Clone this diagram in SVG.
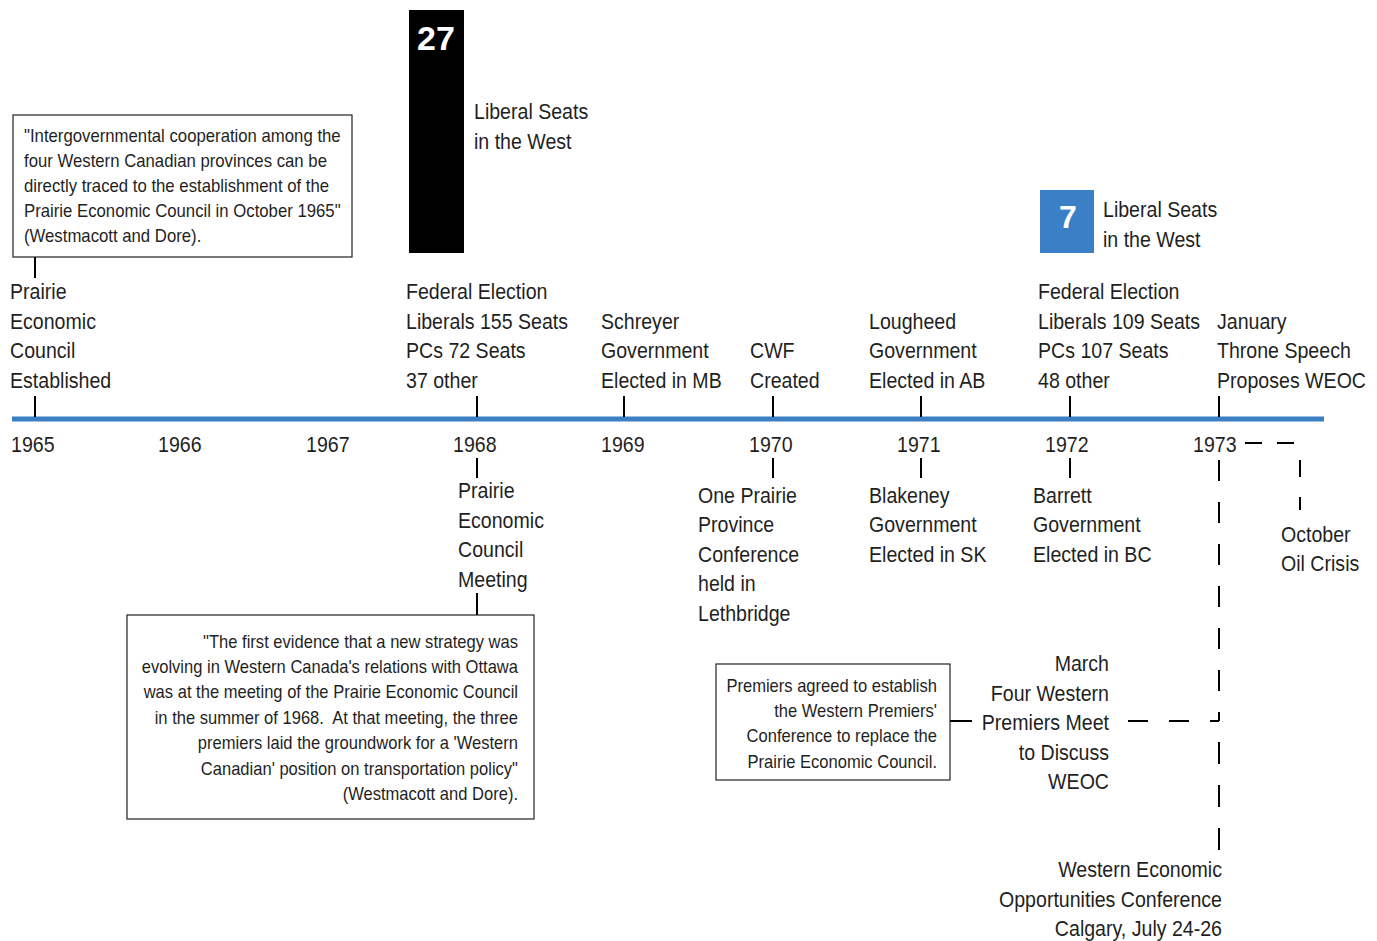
<svg xmlns="http://www.w3.org/2000/svg" width="1377" height="941" viewBox="0 0 1377 941">
<style>
text{font-family:"Liberation Sans",Arial,sans-serif;fill:#1f1f1f}
.l{font-size:22px}
.s{font-size:18px}
.r{text-anchor:end}
.tk{stroke:#000;stroke-width:2;fill:none}
.bx{fill:#fff;stroke:#222;stroke-width:1.2}
.ds{stroke:#000;stroke-width:2;fill:none}
.big{font-family:"Liberation Sans",Arial,sans-serif;font-weight:bold;fill:#fff}
</style>
<rect width="1377" height="941" fill="#fff"/>
<g id="axis">
<rect x="12" y="416.5" width="1312" height="5" fill="#3a7fc2"/>
<text class="l" transform="matrix(.89 0 0 1 11 0)" y="452">1965</text>
<text class="l" transform="matrix(.89 0 0 1 158 0)" y="452">1966</text>
<text class="l" transform="matrix(.89 0 0 1 306 0)" y="452">1967</text>
<text class="l" transform="matrix(.89 0 0 1 453 0)" y="452">1968</text>
<text class="l" transform="matrix(.89 0 0 1 601 0)" y="452">1969</text>
<text class="l" transform="matrix(.89 0 0 1 749 0)" y="452">1970</text>
<text class="l" transform="matrix(.89 0 0 1 897 0)" y="452">1971</text>
<text class="l" transform="matrix(.89 0 0 1 1045 0)" y="452">1972</text>
<text class="l" transform="matrix(.89 0 0 1 1193 0)" y="452">1973</text>
</g>
<g id="connectors">
<path class="tk" d="M35 257V278M35 396V417M477 396V417M624 396V417M773 396V417M921 396V417M1070 396V417M1219 396V417"/>
<path class="tk" d="M477 458V478M773 458V478M921 458V478M1070 458V478M477 593V615M950 721H972"/>
<path class="ds" d="M1219 460V721" stroke-dasharray="21 21"/>
<path class="ds" d="M1128 721H1219" stroke-dasharray="20 21"/>
<path class="ds" d="M1219 742V850" stroke-dasharray="22 21"/>
<path class="ds" d="M1245 443H1294" stroke-dasharray="17 15"/>
<path class="ds" d="M1300 460V510" stroke-dasharray="17 20"/>
</g>
<g id="bar27">
<rect x="409" y="10" width="55" height="243" fill="#000"/>
<text class="big" x="417" y="50" font-size="34">27</text>
<text class="l" transform="matrix(.89 0 0 1 474 0)" y="119">Liberal Seats</text>
<text class="l" transform="matrix(.89 0 0 1 474 0)" y="149">in the West</text>
</g>
<g id="box7">
<rect x="1040" y="190" width="54" height="63" fill="#3b80c6"/>
<text class="big" x="1068" y="228" text-anchor="middle" font-size="32">7</text>
<text class="l" transform="matrix(.89 0 0 1 1103 0)" y="217">Liberal Seats</text>
<text class="l" transform="matrix(.89 0 0 1 1103 0)" y="247">in the West</text>
</g>
<g id="quote1965">
<rect class="bx" x="13" y="115" width="339" height="142"/>
<text class="s" transform="matrix(.93 0 0 1 24 0)" y="142">"Intergovernmental cooperation among the</text>
<text class="s" transform="matrix(.93 0 0 1 24 0)" y="167">four Western Canadian provinces can be</text>
<text class="s" transform="matrix(.93 0 0 1 24 0)" y="192">directly traced to the establishment of the</text>
<text class="s" transform="matrix(.93 0 0 1 24 0)" y="217">Prairie Economic Council in October 1965"</text>
<text class="s" transform="matrix(.93 0 0 1 24 0)" y="242">(Westmacott and Dore).</text>
</g>
<g id="pec1965">
<text class="l" transform="matrix(.89 0 0 1 10 0)" y="299">Prairie</text>
<text class="l" transform="matrix(.89 0 0 1 10 0)" y="329">Economic</text>
<text class="l" transform="matrix(.89 0 0 1 10 0)" y="358">Council</text>
<text class="l" transform="matrix(.89 0 0 1 10 0)" y="388">Established</text>
</g>
<g id="fed1968">
<text class="l" transform="matrix(.89 0 0 1 406 0)" y="299">Federal Election</text>
<text class="l" transform="matrix(.89 0 0 1 406 0)" y="329">Liberals 155 Seats</text>
<text class="l" transform="matrix(.89 0 0 1 406 0)" y="358">PCs 72 Seats</text>
<text class="l" transform="matrix(.89 0 0 1 406 0)" y="388">37 other</text>
</g>
<g id="schreyer">
<text class="l" transform="matrix(.89 0 0 1 601 0)" y="329">Schreyer</text>
<text class="l" transform="matrix(.89 0 0 1 601 0)" y="358">Government</text>
<text class="l" transform="matrix(.89 0 0 1 601 0)" y="388">Elected in MB</text>
</g>
<g id="cwf">
<text class="l" transform="matrix(.89 0 0 1 750 0)" y="358">CWF</text>
<text class="l" transform="matrix(.89 0 0 1 750 0)" y="388">Created</text>
</g>
<g id="lougheed">
<text class="l" transform="matrix(.89 0 0 1 869 0)" y="329">Lougheed</text>
<text class="l" transform="matrix(.89 0 0 1 869 0)" y="358">Government</text>
<text class="l" transform="matrix(.89 0 0 1 869 0)" y="388">Elected in AB</text>
</g>
<g id="fed1972">
<text class="l" transform="matrix(.89 0 0 1 1038 0)" y="299">Federal Election</text>
<text class="l" transform="matrix(.89 0 0 1 1038 0)" y="329">Liberals 109 Seats</text>
<text class="l" transform="matrix(.89 0 0 1 1038 0)" y="358">PCs 107 Seats</text>
<text class="l" transform="matrix(.89 0 0 1 1038 0)" y="388">48 other</text>
</g>
<g id="throne">
<text class="l" transform="matrix(.89 0 0 1 1217 0)" y="329">January</text>
<text class="l" transform="matrix(.89 0 0 1 1217 0)" y="358">Throne Speech</text>
<text class="l" transform="matrix(.89 0 0 1 1217 0)" y="388">Proposes WEOC</text>
</g>
<g id="pec1968">
<text class="l" transform="matrix(.89 0 0 1 458 0)" y="498">Prairie</text>
<text class="l" transform="matrix(.89 0 0 1 458 0)" y="528">Economic</text>
<text class="l" transform="matrix(.89 0 0 1 458 0)" y="557">Council</text>
<text class="l" transform="matrix(.89 0 0 1 458 0)" y="587">Meeting</text>
</g>
<g id="quote1968">
<rect class="bx" x="127" y="615" width="407" height="204"/>
<text class="s r" transform="matrix(.92 0 0 1 518 0)" y="648">"The first evidence that a new strategy was</text>
<text class="s r" transform="matrix(.92 0 0 1 518 0)" y="673">evolving in Western Canada's relations with Ottawa</text>
<text class="s r" transform="matrix(.92 0 0 1 518 0)" y="698">was at the meeting of the Prairie Economic Council</text>
<text class="s r" transform="matrix(.92 0 0 1 518 0)" y="724" xml:space="preserve">in the summer of 1968.  At that meeting, the three</text>
<text class="s r" transform="matrix(.92 0 0 1 518 0)" y="749">premiers laid the groundwork for a 'Western</text>
<text class="s r" transform="matrix(.92 0 0 1 518 0)" y="775">Canadian' position on transportation policy"</text>
<text class="s r" transform="matrix(.92 0 0 1 518 0)" y="800">(Westmacott and Dore).</text>
</g>
<g id="oneprairie">
<text class="l" transform="matrix(.89 0 0 1 698 0)" y="503">One Prairie</text>
<text class="l" transform="matrix(.89 0 0 1 698 0)" y="532">Province</text>
<text class="l" transform="matrix(.89 0 0 1 698 0)" y="562">Conference</text>
<text class="l" transform="matrix(.89 0 0 1 698 0)" y="591">held in</text>
<text class="l" transform="matrix(.89 0 0 1 698 0)" y="621">Lethbridge</text>
</g>
<g id="blakeney">
<text class="l" transform="matrix(.89 0 0 1 869 0)" y="503">Blakeney</text>
<text class="l" transform="matrix(.89 0 0 1 869 0)" y="532">Government</text>
<text class="l" transform="matrix(.89 0 0 1 869 0)" y="562">Elected in SK</text>
</g>
<g id="barrett">
<text class="l" transform="matrix(.89 0 0 1 1033 0)" y="503">Barrett</text>
<text class="l" transform="matrix(.89 0 0 1 1033 0)" y="532">Government</text>
<text class="l" transform="matrix(.89 0 0 1 1033 0)" y="562">Elected in BC</text>
</g>
<g id="oil">
<text class="l" transform="matrix(.89 0 0 1 1281 0)" y="542">October</text>
<text class="l" transform="matrix(.89 0 0 1 1281 0)" y="571">Oil Crisis</text>
</g>
<g id="premiersbox">
<rect class="bx" x="716" y="664" width="234" height="116"/>
<text class="s r" transform="matrix(.92 0 0 1 937 0)" y="692">Premiers agreed to establish</text>
<text class="s r" transform="matrix(.92 0 0 1 937 0)" y="717">the Western Premiers'</text>
<text class="s r" transform="matrix(.92 0 0 1 937 0)" y="742">Conference to replace the</text>
<text class="s r" transform="matrix(.92 0 0 1 937 0)" y="768">Prairie Economic Council.</text>
</g>
<g id="march">
<text class="l r" transform="matrix(.89 0 0 1 1109 0)" y="671">March</text>
<text class="l r" transform="matrix(.89 0 0 1 1109 0)" y="701">Four Western</text>
<text class="l r" transform="matrix(.89 0 0 1 1109 0)" y="730">Premiers Meet</text>
<text class="l r" transform="matrix(.89 0 0 1 1109 0)" y="760">to Discuss</text>
<text class="l r" transform="matrix(.89 0 0 1 1109 0)" y="789">WEOC</text>
</g>
<g id="weoc">
<text class="l r" transform="matrix(.89 0 0 1 1222 0)" y="877">Western Economic</text>
<text class="l r" transform="matrix(.89 0 0 1 1222 0)" y="907">Opportunities Conference</text>
<text class="l r" transform="matrix(.89 0 0 1 1222 0)" y="936">Calgary, July 24-26</text>
</g>
</svg>
